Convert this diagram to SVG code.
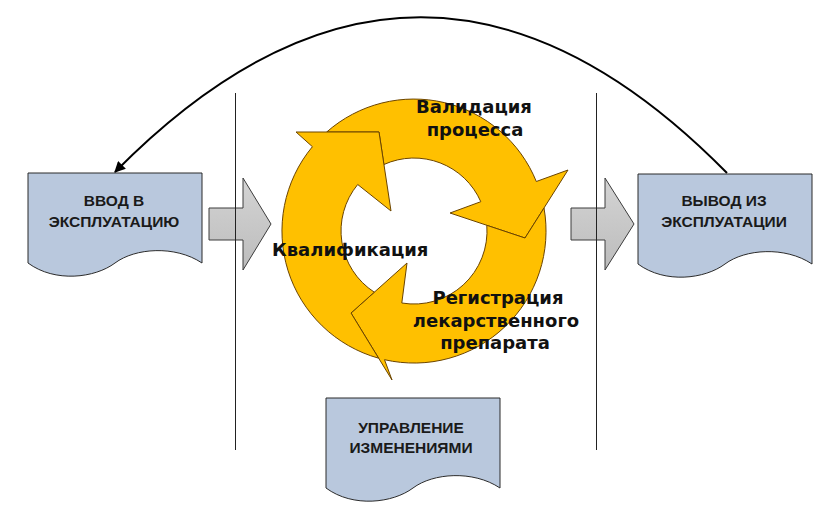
<svg xmlns="http://www.w3.org/2000/svg" width="836" height="514" viewBox="0 0 836 514">
  <style>
    .doc { fill: #b9c8dd; stroke: #2b2b2b; stroke-width: 1; }
    .doctext { font-family: "Liberation Sans", Arial, sans-serif; font-weight: bold; font-size: 15.5px; fill: #1a1a1a; text-anchor: middle; }
    .ring { fill: #ffc000; stroke: #6b4400; stroke-width: 1; stroke-linejoin: miter; }
    .ringtext { font-family: "DejaVu Sans", Verdana, sans-serif; font-weight: bold; font-size: 18px; fill: #111111; }
    .grey { fill: url(#greyGrad); stroke: #3c3c3c; stroke-width: 1; }
    .divider { stroke: #222222; stroke-width: 1; fill: none; }
    .conn { stroke: #000000; stroke-width: 2; fill: none; }
  </style>
  <defs>
    <linearGradient id="greyGrad" x1="0" y1="0" x2="0" y2="1">
      <stop offset="0" stop-color="#d4d4d4"/>
      <stop offset="1" stop-color="#bcbcbc"/>
    </linearGradient>
    <path id="docShape" d="M0,0 H174 V90 C147,72 107,75 87,90 C67,105 27,110 0,90 Z"/>
    <marker id="ah" viewBox="0 0 10 10" refX="9" refY="5" markerWidth="13" markerHeight="11" markerUnits="userSpaceOnUse" orient="auto">
      <path d="M0,0 L10,5 L0,10 Z" fill="#000000"/>
    </marker>
  </defs>

  <!-- grey transition arrows -->
  <g id="arrow-in">
    <path class="grey" d="M209,208 H243 V178 L271,224 L243,270 V240 H209 Z"/>
  </g>
  <g id="arrow-out">
    <path class="grey" d="M571,208 H605 V178 L634,224 L605,270 V240 H571 Z"/>
  </g>

  <!-- vertical dividers -->
  <g id="dividers">
    <line class="divider" x1="235.5" y1="93" x2="235.5" y2="450"/>
    <line class="divider" x1="596.5" y1="93" x2="596.5" y2="450"/>
  </g>

  <!-- cycle of three curved arrows -->
  <g id="validation">
    <path class="ring" d="M326.7,132 A132,132 0 0 1 536.3,181.5 L568,170 L525,238 L450,213 L480.8,201.7 A73,73 0 0 0 383.9,164.5 L379,132 Z"/>
  </g>
  <g id="registration">
    <path class="ring" d="M544,208 A132,132 0 0 1 384.5,359.7 L392,380 L351,313 L407,263 L401.8,303 A73,73 0 0 0 486.8,225.3 L525,238 Z"/>
  </g>
  <g id="qualification">
    <path class="ring" d="M378.6,358.2 A132,132 0 0 1 312.4,146.7 L296,132 L379,132 L391,211 L357.7,184.5 A73,73 0 0 0 374.3,292.2 L351,313 Z"/>
  </g>

  <g id="labels">
    <text class="ringtext" x="474" y="113" text-anchor="middle">Валидация</text>
    <text class="ringtext" x="475" y="136" text-anchor="middle">процесса</text>
    <text class="ringtext" x="272" y="256">Квалификация</text>
    <text class="ringtext" x="498" y="304" text-anchor="middle">Регистрация</text>
    <text class="ringtext" x="496" y="327" text-anchor="middle">лекарственного</text>
    <text class="ringtext" x="495" y="349" text-anchor="middle">препарата</text>
  </g>

  <!-- document nodes -->
  <g id="node-commissioning">
    <use href="#docShape" class="doc" transform="translate(28,173)"/>
    <text class="doctext" x="114" y="206">ВВОД В</text>
    <text class="doctext" x="114" y="227">ЭКСПЛУАТАЦИЮ</text>
  </g>
  <g id="node-decommissioning">
    <use href="#docShape" class="doc" transform="translate(638,174)"/>
    <text class="doctext" x="724" y="206">ВЫВОД ИЗ</text>
    <text class="doctext" x="724" y="227">ЭКСПЛУАТАЦИИ</text>
  </g>
  <g id="node-change-control">
    <use href="#docShape" class="doc" transform="translate(326,398)"/>
    <text class="doctext" x="411" y="433">УПРАВЛЕНИЕ</text>
    <text class="doctext" x="411" y="453">ИЗМЕНЕНИЯМИ</text>
  </g>

  <!-- connector -->
  <g id="connectors">
    <path class="conn" d="M727,173 Q421,-138 115,172" marker-end="url(#ah)"/>
  </g>
</svg>
